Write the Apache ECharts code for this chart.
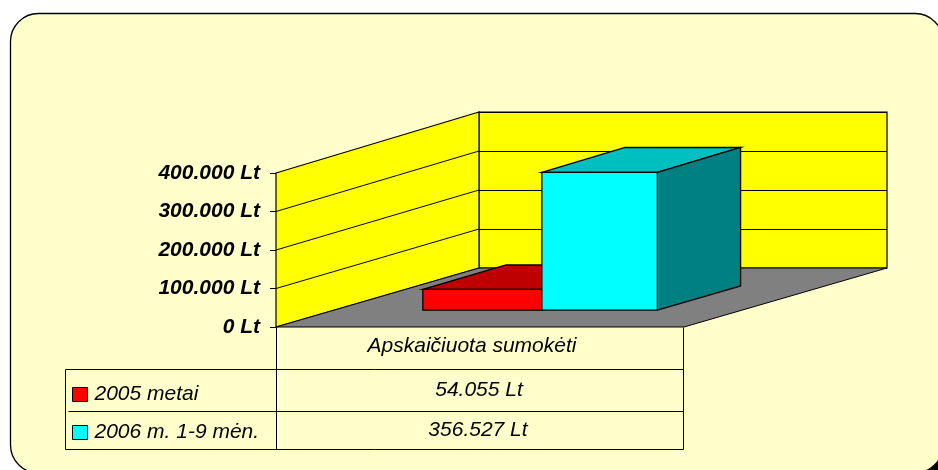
<!DOCTYPE html>
<html>
<head>
<meta charset="utf-8">
<style>
  html, body { margin: 0; padding: 0; background: #fff; }
  #chart { width: 938px; height: 470px; }
</style>
<script src="https://cdn.jsdelivr.net/npm/echarts@6/dist/echarts.min.js"></script>
</head>
<body>
<div id="chart"></div>
<script>
const categories = ['Apskaičiuota sumokėti'];
const seriesNames = ['2005 metai', '2006 m. 1-9 mėn.'];
const values2005 = [54055];
const values2006 = [356527];
const yTicks = [0, 100000, 200000, 300000, 400000];

const FONT = '"Liberation Sans", Arial, sans-serif';
const DEPTH_X = 203;                 // oblique offset front -> back wall
const DEPTH_Y_BASE = 59, DEPTH_Y_TOP = 61;
const BASE_Y = 327, WALL_H = 154;
const BAR_FRONT = 0.285, BAR_BACK = 0.695;

function fmt(v) {
  return String(v).replace(/\B(?=(\d{3})+$)/g, '.') + ' Lt';
}

function project(p, d) {
  const dy = DEPTH_Y_BASE + (DEPTH_Y_TOP - DEPTH_Y_BASE) * (BASE_Y - p[1]) / WALL_H;
  return [p[0] + d * DEPTH_X, p[1] - d * dy];
}

function poly(points, fill, width) {
  return {
    type: 'polygon',
    shape: { points: points },
    style: { fill: fill, stroke: '#000', lineWidth: width || 1 }
  };
}

// side wall, its grid lines and the floor, all hung off the front value axis
function renderWalls(params, api) {
  const cx = api.coord([0, 0])[0];
  const half = api.size([1, 0])[0] / 2;
  const base = api.coord([0, 0]);
  const top = api.coord([0, yTicks[yTicks.length - 1]]);
  const left = cx - half, right = cx + half;
  const children = [];
  children.push(poly([
    [left, top[1]], project([left, top[1]], 1),
    project([left, base[1]], 1), [left, base[1]]
  ], '#FFFF00', 1.2));
  yTicks.slice(1, -1).forEach(function (t) {
    const y = api.coord([0, t])[1];
    const b = project([left, y], 1);
    children.push({
      type: 'line',
      shape: { x1: left, y1: y, x2: b[0], y2: b[1] },
      style: { stroke: '#000', lineWidth: 1 }
    });
  });
  children.push(poly([
    [left, base[1]], project([left, base[1]], 1),
    project([right, base[1]], 1), [right, base[1]]
  ], '#808080'));
  return { type: 'group', children: children };
}

function renderBar(slotL, slotR, front, top, side) {
  return function (params, api) {
    const cx = api.coord([0, 0])[0];
    const y0 = api.coord([0, 0])[1];
    const y1 = api.coord([0, api.value(1)])[1];
    const a = project([cx + slotL, y1], BAR_FRONT);
    const b = project([cx + slotR, y1], BAR_FRONT);
    const c = project([cx + slotR, y0], BAR_FRONT);
    const d = project([cx + slotL, y0], BAR_FRONT);
    const a2 = project([cx + slotL, y1], BAR_BACK);
    const b2 = project([cx + slotR, y1], BAR_BACK);
    const c2 = project([cx + slotR, y0], BAR_BACK);
    return {
      type: 'group',
      children: [
        poly([a, a2, b2, b], top, 1.3),
        poly([b, b2, c2, c], side, 1.3),
        poly([a, b, c, d], front, 1.3)
      ]
    };
  };
}

function tableLine(x1, y1, x2, y2) {
  return {
    type: 'line',
    z: 1,
    shape: { x1: x1, y1: y1, x2: x2, y2: y2 },
    style: { stroke: '#000', lineWidth: 1 }
  };
}

function tableText(str, x, y) {
  return {
    type: 'text',
    z: 1,
    style: {
      text: str, x: x, y: y,
      align: 'center', verticalAlign: 'middle',
      font: 'italic 21px ' + FONT, fill: '#000'
    }
  };
}

const chart = echarts.init(document.getElementById('chart'));
chart.setOption({
  animation: false,
  backgroundColor: '#fff',
  graphic: [
    {
      type: 'rect',
      z: -100,
      silent: true,
      shape: { x: 920, y: 452, width: 18, height: 18 },
      style: { fill: '#000' }
    },
    {
      type: 'rect',
      z: -100,
      silent: true,
      shape: { x: 10.5, y: 13.5, width: 932.5, height: 459.5, r: 28 },
      style: { fill: '#FFFFCC', stroke: '#000', lineWidth: 1.3 }
    },
    tableLine(65.5, 369.5, 683.5, 369.5),
    tableLine(68.5, 411.5, 683.5, 411.5),
    tableLine(65.5, 449.5, 683.5, 449.5),
    tableLine(65.5, 369.5, 65.5, 449.5),
    tableLine(276.5, 327.5, 276.5, 449.5),
    tableLine(683.5, 327.5, 683.5, 449.5),
    tableText(fmt(values2005[0]), 479, 390.5),
    tableText(fmt(values2006[0]), 478, 430.5)
  ],
  legend: {
    data: seriesNames.map(function (n) { return { name: n, icon: 'rect' }; }),
    orient: 'vertical',
    left: 72,
    top: 384,
    padding: 0,
    itemWidth: 15,
    itemHeight: 14,
    itemGap: 17,
    selectedMode: false,
    itemStyle: { borderColor: '#000', borderWidth: 1 },
    textStyle: { fontFamily: FONT, fontStyle: 'italic', fontSize: 21, color: '#000', padding: [0, 0, 0, 2] }
  },
  grid: [
    { left: 276, width: 408, top: BASE_Y - WALL_H, height: WALL_H },
    {
      left: 479, width: 408, top: 112, height: 156,
      show: true, backgroundColor: '#FFFF00', borderColor: '#000', borderWidth: 1.2
    }
  ],
  xAxis: [
    {
      type: 'category',
      data: categories,
      gridIndex: 0,
      axisLine: { show: false },
      axisTick: { show: false },
      axisLabel: {
        margin: 9,
        padding: [0, 16, 0, 0],
        color: '#000',
        fontFamily: FONT,
        fontStyle: 'italic',
        fontSize: 21
      }
    },
    {
      type: 'category',
      data: categories,
      gridIndex: 1,
      axisLine: { show: false },
      axisTick: { show: false },
      axisLabel: { show: false }
    }
  ],
  yAxis: [
    {
      type: 'value',
      gridIndex: 0,
      min: 0,
      max: 400000,
      interval: 100000,
      splitLine: { show: false },
      axisLine: { show: true, lineStyle: { color: '#000' } },
      axisTick: { show: true, length: 6, lineStyle: { color: '#000' } },
      axisLabel: {
        margin: 16,
        color: '#000',
        fontFamily: FONT,
        fontStyle: 'italic',
        fontWeight: 'bold',
        fontSize: 21,
        formatter: fmt
      }
    },
    {
      type: 'value',
      gridIndex: 1,
      min: 0,
      max: 400000,
      interval: 100000,
      axisLine: { show: false },
      axisTick: { show: false },
      axisLabel: { show: false },
      splitLine: { show: true, lineStyle: { color: '#000', width: 1 } }
    }
  ],
  series: [
    {
      type: 'custom',
      name: 'walls',
      xAxisIndex: 0,
      yAxisIndex: 0,
      silent: true,
      data: [[0, 0]],
      renderItem: renderWalls
    },
    {
      type: 'custom',
      name: seriesNames[0],
      xAxisIndex: 0,
      yAxisIndex: 0,
      itemStyle: { color: '#FF0000' },
      data: values2005.map(function (v, i) { return [i, v]; }),
      renderItem: renderBar(-115, 4, '#FF0000', '#BF0000', '#800000')
    },
    {
      type: 'custom',
      name: seriesNames[1],
      xAxisIndex: 0,
      yAxisIndex: 0,
      itemStyle: { color: '#00FFFF' },
      data: values2006.map(function (v, i) { return [i, v]; }),
      renderItem: renderBar(4, 119.5, '#00FFFF', '#00BFBF', '#008080')
    }
  ]
});
</script>
</body>
</html>
